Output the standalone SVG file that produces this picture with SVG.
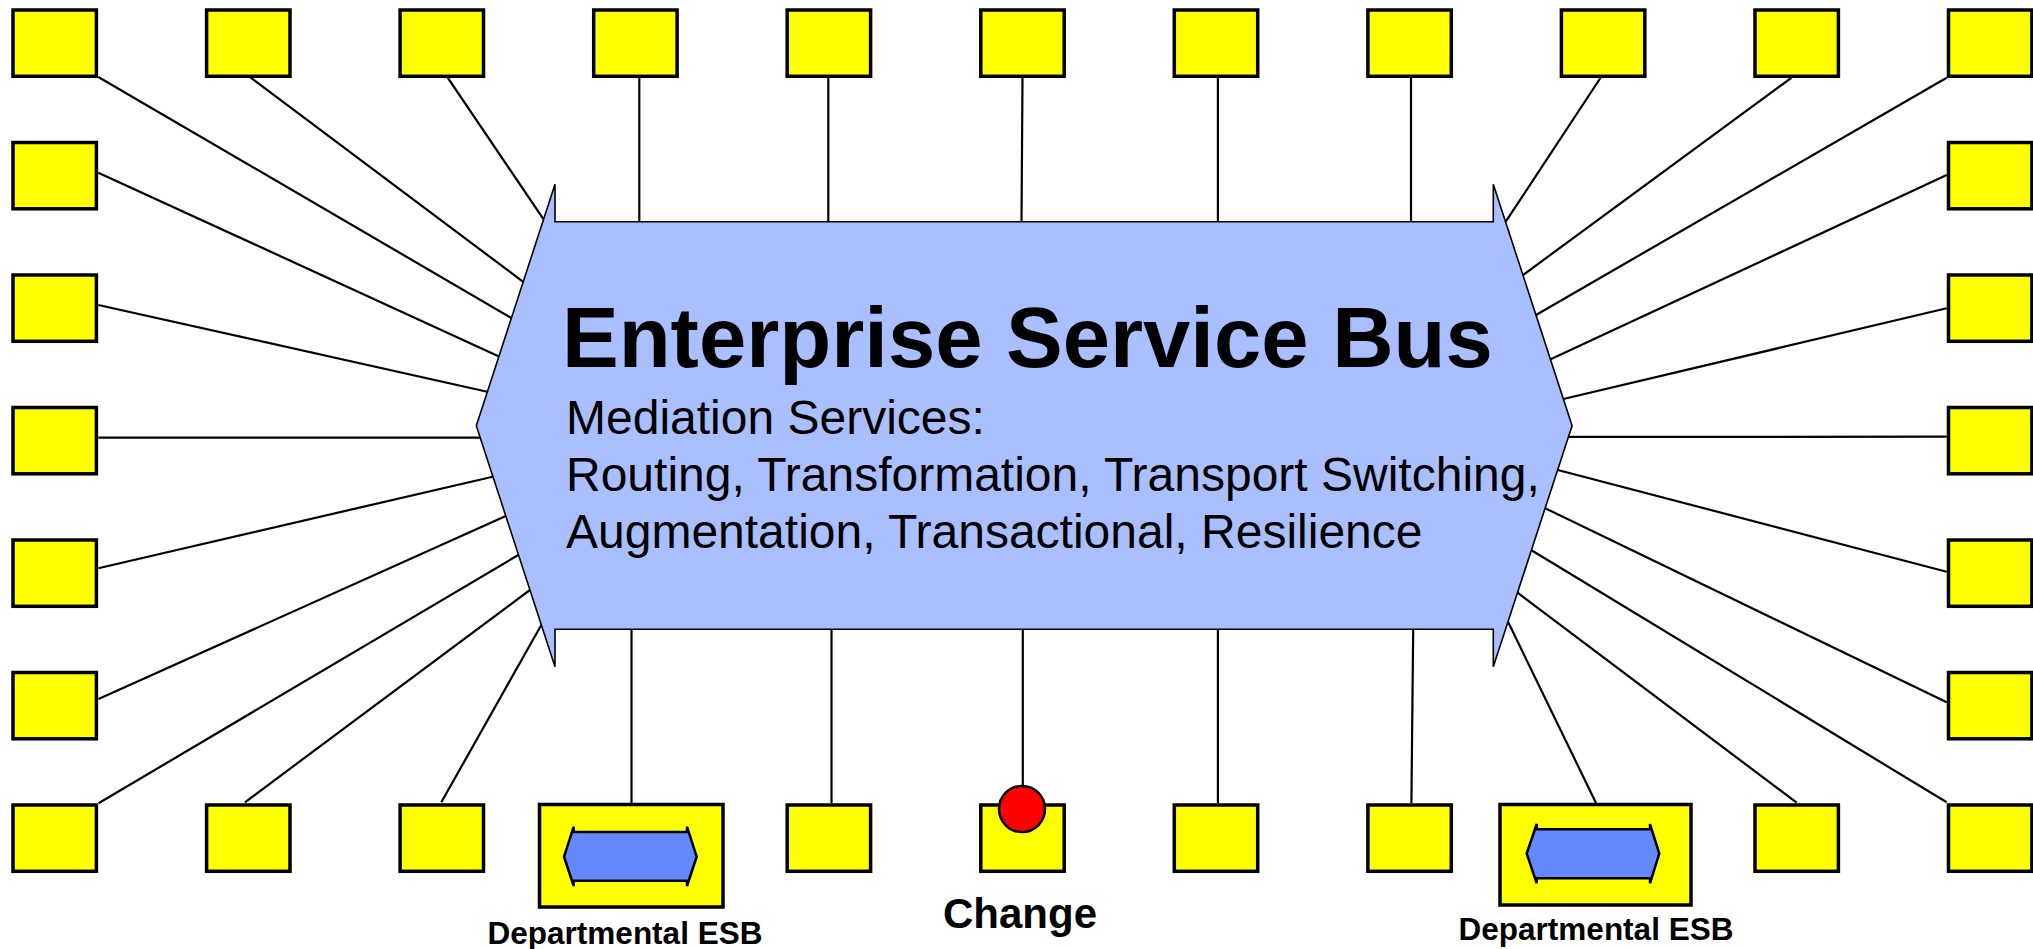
<svg xmlns="http://www.w3.org/2000/svg" width="2033" height="949" viewBox="0 0 2033 949">
<style>
.box{fill:#FFFF00;stroke:#000;stroke-width:3.5}
.ln{stroke:#000;stroke-width:2.2;fill:none}
.esb{fill:#AABFFF;stroke:#000;stroke-width:1.6}
.mini{fill:#6688FF;stroke:#000;stroke-width:2.5;stroke-linejoin:miter}
.t{font-family:"Liberation Sans",Arial,sans-serif;fill:#000}
.b{font-weight:bold}
</style>
<rect width="2033" height="949" fill="#fff"/>
<g id="connectors" class="ln">
<line x1="98.3" y1="77" x2="511.4" y2="318"/>
<line x1="250.7" y1="77.7" x2="523.2" y2="281.8"/>
<line x1="447.7" y1="77.7" x2="543.6" y2="219.4"/>
<line x1="639.3" y1="77.7" x2="639.3" y2="221.7"/>
<line x1="828.3" y1="77.7" x2="828.3" y2="221.7"/>
<line x1="1022.5" y1="77.7" x2="1021.5" y2="221.7"/>
<line x1="1217.9" y1="77.7" x2="1217.9" y2="221.7"/>
<line x1="1411" y1="77.7" x2="1411" y2="221.7"/>
<line x1="1600.4" y1="78" x2="1505.7" y2="221.7"/>
<line x1="1791.2" y1="78" x2="1523" y2="275"/>
<line x1="1946.7" y1="77.7" x2="1536" y2="315"/>
<line x1="98.3" y1="172.7" x2="499" y2="356.4"/>
<line x1="98.3" y1="305" x2="487.2" y2="391.7"/>
<line x1="98.3" y1="437.7" x2="480.2" y2="437.7"/>
<line x1="98.3" y1="568.3" x2="492.7" y2="476.7"/>
<line x1="98.5" y1="699" x2="505.8" y2="516"/>
<line x1="98.5" y1="803.3" x2="518.3" y2="555"/>
<line x1="244.9" y1="802.3" x2="529.9" y2="590"/>
<line x1="441.3" y1="802.3" x2="541.3" y2="625"/>
<line x1="631.5" y1="629.3" x2="631.5" y2="803"/>
<line x1="831.5" y1="629.3" x2="831.5" y2="803"/>
<line x1="1022.8" y1="629.3" x2="1022.8" y2="786"/>
<line x1="1217.9" y1="629.3" x2="1217.9" y2="803"/>
<line x1="1413.2" y1="629.3" x2="1411.4" y2="803"/>
<line x1="1508" y1="621.7" x2="1596" y2="803"/>
<line x1="1796.7" y1="802.7" x2="1517.6" y2="592.7"/>
<line x1="1946.7" y1="802.3" x2="1531.5" y2="550.2"/>
<line x1="1946.7" y1="702.3" x2="1545.3" y2="508.3"/>
<line x1="1946.7" y1="571.7" x2="1557.8" y2="470"/>
<line x1="1946.7" y1="436.7" x2="1568.8" y2="436.9"/>
<line x1="1946.7" y1="308.3" x2="1563.4" y2="399"/>
<line x1="1946.7" y1="175" x2="1550.6" y2="359.3"/>
</g>
<g id="esb">
<path class="esb" d="M555,221.7 L555,184.3 L476.3,425.7 L555,666.7 L555,629.3 L1493.3,629.3 L1493.3,666.7 L1572.1,425.7 L1493.3,184.3 L1493.3,221.7 Z"/>
<text class="t b" x="562" y="366.5" font-size="85">Enterprise Service Bus</text>
<text class="t" x="566" y="434" font-size="48">Mediation Services:</text>
<text class="t" x="566" y="491" font-size="48">Routing, Transformation, Transport Switching,</text>
<text class="t" x="566" y="548" font-size="48">Augmentation, Transactional, Resilience</text>
</g>
<g id="top-row">
<rect id="t0" class="box" x="13" y="10" width="83.4" height="66.3"/>
<rect id="t1" class="box" x="206.6" y="10" width="83.4" height="66.3"/>
<rect id="t2" class="box" x="400.1" y="10" width="83.4" height="66.3"/>
<rect id="t3" class="box" x="593.7" y="10" width="83.4" height="66.3"/>
<rect id="t4" class="box" x="787.2" y="10" width="83.4" height="66.3"/>
<rect id="t5" class="box" x="980.8" y="10" width="83.4" height="66.3"/>
<rect id="t6" class="box" x="1174.3" y="10" width="83.4" height="66.3"/>
<rect id="t7" class="box" x="1367.9" y="10" width="83.4" height="66.3"/>
<rect id="t8" class="box" x="1561.4" y="10" width="83.4" height="66.3"/>
<rect id="t9" class="box" x="1755" y="10" width="83.4" height="66.3"/>
<rect id="t10" class="box" x="1948.5" y="10" width="83.4" height="66.3"/>
</g>
<g id="left-col">
<rect id="l1" class="box" x="13" y="142.5" width="83.4" height="66.3"/>
<rect id="l2" class="box" x="13" y="275" width="83.4" height="66.3"/>
<rect id="l3" class="box" x="13" y="407.5" width="83.4" height="66.3"/>
<rect id="l4" class="box" x="13" y="540" width="83.4" height="66.3"/>
<rect id="l5" class="box" x="13" y="672.5" width="83.4" height="66.3"/>
</g>
<g id="right-col">
<rect id="r1" class="box" x="1948.5" y="142.5" width="83.4" height="66.3"/>
<rect id="r2" class="box" x="1948.5" y="275" width="83.4" height="66.3"/>
<rect id="r3" class="box" x="1948.5" y="407.5" width="83.4" height="66.3"/>
<rect id="r4" class="box" x="1948.5" y="540" width="83.4" height="66.3"/>
<rect id="r5" class="box" x="1948.5" y="672.5" width="83.4" height="66.3"/>
</g>
<g id="bottom-row">
<rect id="b0" class="box" x="13" y="805" width="83.4" height="66.3"/>
<rect id="b1" class="box" x="206.6" y="805" width="83.4" height="66.3"/>
<rect id="b2" class="box" x="400.1" y="805" width="83.4" height="66.3"/>
<rect id="b4" class="box" x="787.2" y="805" width="83.4" height="66.3"/>
<rect id="b6" class="box" x="1174.3" y="805" width="83.4" height="66.3"/>
<rect id="b7" class="box" x="1367.9" y="805" width="83.4" height="66.3"/>
<rect id="b9" class="box" x="1755" y="805" width="83.4" height="66.3"/>
<rect id="b10" class="box" x="1948.5" y="805" width="83.4" height="66.3"/>
</g>
<g id="change">
<rect class="box" x="980.8" y="805" width="83.4" height="66.3"/>
<circle cx="1022" cy="809" r="23" fill="#FF0000" stroke="#000" stroke-width="2.5"/>
<text class="t b" x="1020" y="928" font-size="42" text-anchor="middle">Change</text>
</g>
<g id="dept-esb-1">
<rect class="box" x="539.5" y="804.5" width="183.5" height="102.5"/>
<path class="mini" d="M573.7,826.7 L573.7,832 L687,832 L687,826.7 L696.7,856.7 L687,886 L687,880.7 L573.7,880.7 L573.7,886 L564,856.7 Z"/>
<text class="t b" x="625" y="944" font-size="31.5" text-anchor="middle">Departmental ESB</text>
</g>
<g id="dept-esb-2">
<rect class="box" x="1500" y="804.5" width="191" height="100.5"/>
<path class="mini" d="M1536.7,824 L1536.7,829.3 L1650,829.3 L1650,824 L1659.3,853.6 L1650,883.3 L1650,878.3 L1536.7,878.3 L1536.7,883.3 L1526.7,853.6 Z"/>
<text class="t b" x="1596" y="939.5" font-size="31.5" text-anchor="middle">Departmental ESB</text>
</g>
</svg>
